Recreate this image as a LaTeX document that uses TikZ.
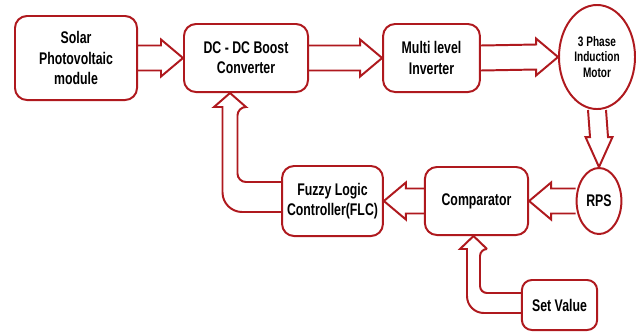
\documentclass[tikz,border=0pt]{standalone}
\usepackage{fontspec}
\usetikzlibrary{calc, shapes.geometric}
\newfontfamily\lblfont{Liberation Sans}[FakeStretch=0.73]
\definecolor{boxred}{RGB}{175,25,30}
% block arrow sizes (picture units)
\def\shaft{12.5}
\def\headw{18.5}
\def\headl{22}

% hollow block arrow, #1 tail anchor, #2 tip anchor, #3 = 1 right / -1 left
\newcommand{\harrow}[3]{%
  \draw[fat arrow] ($(#1)+(0,-\shaft)$) -- ($(#2)+({-(#3)*\headl},-\shaft)$)
    -- ($(#2)+({-(#3)*\headl},-\headw)$) -- (#2)
    -- ($(#2)+({-(#3)*\headl},\headw)$) -- ($(#2)+({-(#3)*\headl},\shaft)$)
    -- ($(#1)+(0,\shaft)$);}

\begin{document}
\begin{tikzpicture}[x=0.025cm, y=-0.025cm]
    \tikzstyle{block}=[draw=boxred, line width=1.4pt, rounded corners=0.3cm, align=center, inner sep=0pt, font=\lblfont\bfseries\fontsize{12}{14.3}\selectfont]
    \tikzstyle{round block}=[block, ellipse]
    \tikzstyle{fat arrow}=[draw=boxred, line width=1.4pt, line join=miter]

    \useasboundingbox (0,0) rectangle (636,332);

    \node[block, minimum width=3.05cm, minimum height=2.1cm] (solar) at (76,58) {Solar\\Photovoltaic\\module};
    \node[block, minimum width=3.1cm, minimum height=1.7cm] (dcdc) at (246,58) {DC - DC Boost\\Converter};
    \node[block, minimum width=2.42cm, minimum height=1.7cm] (inv) at (431.5,58) {Multi level\\Inverter};
    \node[round block, minimum width=1.9cm, minimum height=2.6cm, font=\lblfont\bfseries\fontsize{9.8}{10.8}\selectfont] (motor) at (597,57) {3 Phase\\Induction\\Motor};

    \node[round block, minimum width=1.12cm, minimum height=1.65cm] (rps) at (599,201) {RPS};
    \node[block, minimum width=2.58cm, minimum height=1.7cm] (comp) at (476.5,201) {Comparator};
    \node[block, minimum width=2.52cm, minimum height=1.75cm] (flc) at (332.5,201) {Fuzzy Logic\\Controller(FLC)};
    \node[block, minimum width=1.88cm, minimum height=1.25cm, rounded corners=0.25cm] (setv) at (559.5,305) {Set Value};

    % forward path
    \harrow{solar.east}{dcdc.west}{1}
    \harrow{dcdc.east}{inv.west}{1}
    \harrow{inv.east}{motor.west}{1}

    % motor speed down to the sensor
    \draw[fat arrow] ($(motor.south)+(-9,0)$) -- ($(rps.north)+(-9,-30)$) -- ($(rps.north)+(-13.5,-30)$) -- (rps.north)
        -- ($(rps.north)+(13.5,-30)$) -- ($(rps.north)+(9,-30)$) -- ($(motor.south)+(9,0)$);

    % feedback path
    \harrow{rps.west}{comp.east}{-1}
    \harrow{comp.west}{flc.east}{-1}

    \coordinate (cmptip) at ($(comp.south)+(-3,0)$);
    \draw[fat arrow] ($(setv.west)+(0,-12)$) [rounded corners=5pt] -| ($(cmptip)+(6.5,13)$) [sharp corners]
        -- ($(cmptip)+(13.5,13)$) -- (cmptip) -- ($(cmptip)+(-13.5,13)$) -- ($(cmptip)+(-6.5,13)$)
        [rounded corners=12pt] |- ($(setv.west)+(0,8)$);

    \coordinate (dctip) at ($(dcdc.south)+(-16,0)$);
    \draw[fat arrow] ($(flc.west)+(0,-19)$) [rounded corners=6pt] -| ($(dctip)+(7.5,14)$) [sharp corners]
        -- ($(dctip)+(16,14)$) -- (dctip) -- ($(dctip)+(-16,14)$) -- ($(dctip)+(-7.5,14)$)
        [rounded corners=14pt] |- ($(flc.west)+(0,11)$);
\end{tikzpicture}
\end{document}
